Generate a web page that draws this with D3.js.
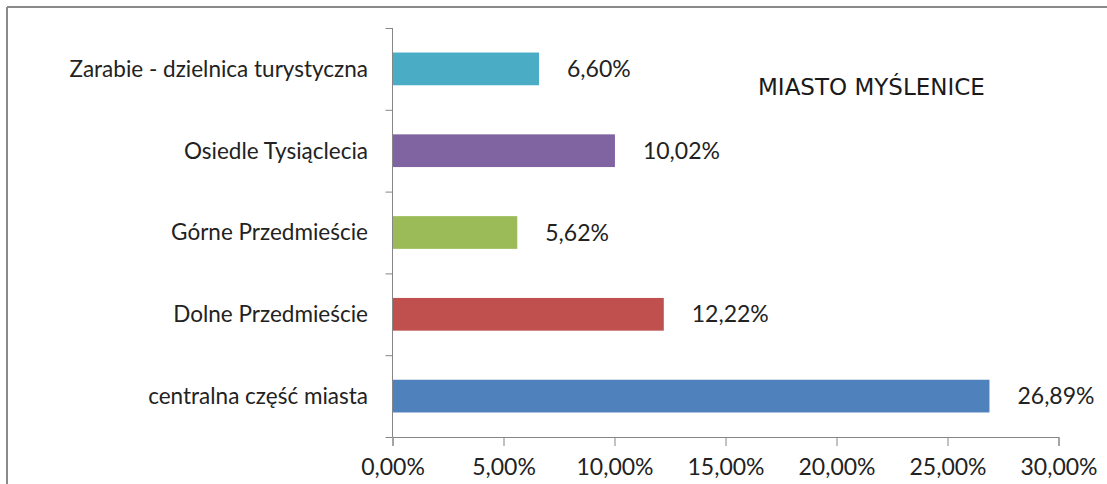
<!DOCTYPE html>
<html>
<head>
<meta charset="utf-8">
<script src="https://cdn.jsdelivr.net/npm/d3@7/dist/d3.min.js"></script>
<style>
  html, body { margin: 0; padding: 0; background: #fff; }
  svg { display: block; }
  .lbl { font-family: Lato, "Open Sans", sans-serif; fill: #222; }
  .title { font-family: "DejaVu Sans", Verdana, sans-serif; fill: #1a1a1a; }
</style>
</head>
<body>
<svg id="chart" width="1107" height="484"></svg>
<script>
// Districts of Myślenice, listed top to bottom
const categories = [
  "Zarabie - dzielnica turystyczna",
  "Osiedle Tysiąclecia",
  "Górne Przedmieście",
  "Dolne Przedmieście",
  "centralna część miasta"
];
const values = [6.60, 10.02, 5.62, 12.22, 26.89];
const tickValues = [0, 5, 10, 15, 20, 25, 30];
const chartTitle = "MIASTO MYŚLENICE";

const palette = ["#4BACC6", "#8064A2", "#9BBB59", "#C0504D", "#4F81BD"];

const pl = d3.formatLocale({ decimal: ",", thousands: " ", grouping: [3], currency: ["", " zł"] });
const fmt = v => pl.format(".2f")(v) + "%";

const svg = d3.select("#chart");
const W = 1107, H = 484;

// frame (top and left edges visible)
svg.append("line").attr("x1", 7).attr("x2", W).attr("y1", 7).attr("y2", 7)
  .attr("stroke", "#8a8a8a").attr("stroke-width", 2);
svg.append("line").attr("x1", 7).attr("x2", 7).attr("y1", 7).attr("y2", H)
  .attr("stroke", "#8a8a8a").attr("stroke-width", 2);

const x = d3.scaleLinear().domain([0, 30]).range([392.5, 1058.5]);
const y = d3.scaleBand().domain(categories).range([28, 437]).paddingInner(0.6).paddingOuter(0.3);
const step = y.step();

const axisColor = "#868686";

// bars
svg.append("g").selectAll("rect").data(categories).join("rect")
  .attr("x", x(0))
  .attr("y", d => y(d))
  .attr("width", (d, i) => x(values[i]) - x(0))
  .attr("height", y.bandwidth())
  .attr("fill", (d, i) => palette[i]);

// x axis
const gx = svg.append("g").attr("transform", "translate(0,437)")
  .call(d3.axisBottom(x).tickValues(tickValues).tickFormat(fmt).tickSize(9).tickPadding(13));
gx.select(".domain").attr("stroke", axisColor);
gx.selectAll(".tick line").attr("stroke", axisColor);
gx.selectAll(".tick text").attr("class", "lbl").style("font-size", "23px").attr("fill", "#222");

// y axis: line with ticks on category boundaries
const gy = svg.append("g");
gy.append("line").attr("x1", x(0)).attr("x2", x(0)).attr("y1", 28).attr("y2", 437).attr("stroke", axisColor);
gy.selectAll("line.tk").data(d3.range(categories.length + 1)).join("line")
  .attr("class", "tk")
  .attr("x1", x(0) - 7).attr("x2", x(0))
  .attr("y1", i => 28 + i * step + 0.5).attr("y2", i => 28 + i * step + 0.5)
  .attr("stroke", axisColor);

// category labels
svg.append("g").selectAll("text").data(categories).join("text")
  .attr("class", "lbl")
  .attr("x", 368)
  .attr("y", d => y(d) + y.bandwidth() / 2)
  .attr("dy", "0.35em")
  .attr("text-anchor", "end")
  .style("font-size", "22.5px")
  .text(d => d);

// value labels
svg.append("g").selectAll("text").data(categories).join("text")
  .attr("class", "lbl")
  .attr("x", (d, i) => x(values[i]) + 28)
  .attr("y", d => y(d) + y.bandwidth() / 2)
  .attr("dy", "0.35em")
  .style("font-size", "23px")
  .text((d, i) => fmt(values[i]));

// title
svg.append("text").attr("class", "title")
  .attr("x", 758).attr("y", 87).attr("dy", "0.35em")
  .style("font-size", "23px")
  .text(chartTitle);
</script>
</body>
</html>
